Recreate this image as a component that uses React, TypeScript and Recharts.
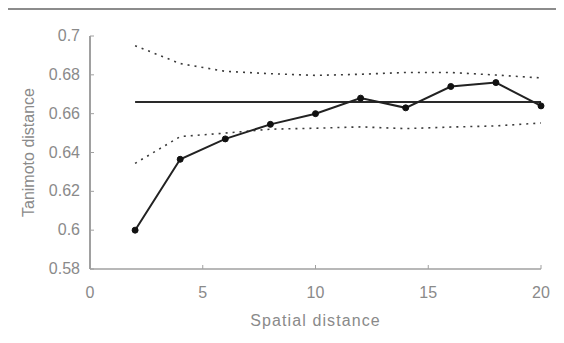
import { LineChart, Line, XAxis, YAxis, Label } from "recharts";

const distances = [2, 4, 6, 8, 10, 12, 14, 16, 18, 20];
const tanimoto = [0.6, 0.6365, 0.647, 0.6545, 0.66, 0.668, 0.663, 0.674, 0.676, 0.664];
const meanLevel = [0.666, 0.666, 0.666, 0.666, 0.666, 0.666, 0.666, 0.666, 0.666, 0.666];
const upperBound = [0.695, 0.6858, 0.6818, 0.6806, 0.6797, 0.6803, 0.6812, 0.6812, 0.6799, 0.6784];
const lowerBound = [0.6344, 0.6482, 0.65, 0.652, 0.6525, 0.6532, 0.6523, 0.6531, 0.6537, 0.6552];

const xTicks = [0, 5, 10, 15, 20];
const yTicks = [0.58, 0.6, 0.62, 0.64, 0.66, 0.68, 0.7];

const data = distances.map((d, i) => ({
  d,
  tanimoto: tanimoto[i],
  mean: meanLevel[i],
  upper: upperBound[i],
  lower: lowerBound[i],
}));

const TEXT = "#8a8a8a";
const AXIS = "#a0a0a0";
const FONT = "'Liberation Sans', Arial, sans-serif";

const YTick = (props: any) => {
  const { x, y, payload } = props;
  return (
    <g>
      <line x1={x} x2={x + 4} y1={y} y2={y} stroke={AXIS} strokeWidth={1} />
      <text x={x - 10} y={y} dy={5} textAnchor="end" fill={TEXT} fontSize={16} fontFamily={FONT}>
        {String(payload.value)}
      </text>
    </g>
  );
};

const XTick = (props: any) => {
  const { x, y, payload } = props;
  return (
    <g>
      <line x1={x} x2={x} y1={y} y2={y - 4} stroke={AXIS} strokeWidth={1} />
      <text x={x} y={y} dy={29} textAnchor="middle" fill={TEXT} fontSize={16} fontFamily={FONT}>
        {String(payload.value)}
      </text>
    </g>
  );
};

export default function App() {
  return (
    <div
      style={{
        marginLeft: -4,
        width: 558,
        height: 333,
        borderTop: "2px solid #8c8c8c",
        borderLeft: "2px solid #8c8c8c",
        background: "#fff",
      }}
    >
      <LineChart
        width={558}
        height={333}
        data={data}
        margin={{ top: 26, right: 23, bottom: 0, left: 0 }}
      >
        <XAxis
          dataKey="d"
          type="number"
          domain={[0, 20]}
          ticks={xTicks}
          height={74}
          tickSize={0}
          tickMargin={0}
          tick={<XTick />}
          axisLine={{ stroke: AXIS, strokeWidth: 1.5 }}
          tickLine={false}
        >
          <Label
            value="Spatial distance"
            position="insideBottom"
            offset={17}
            fill={TEXT}
            fontSize={16}
            fontFamily={FONT}
            letterSpacing={1.1}
          />
        </XAxis>
        <YAxis
          type="number"
          domain={[0.58, 0.7]}
          ticks={yTicks}
          width={84}
          tickSize={0}
          tickMargin={0}
          tick={<YTick />}
          axisLine={{ stroke: AXIS, strokeWidth: 2 }}
          tickLine={false}
          allowDataOverflow
        >
          <Label
            value="Tanimoto distance"
            angle={-90}
            position="insideLeft"
            offset={22}
            fill={TEXT}
            fontSize={16}
            fontFamily={FONT}
            style={{ textAnchor: "middle" }}
          />
        </YAxis>
        <Line
          dataKey="upper"
          stroke="#3a3a3a"
          strokeWidth={1.6}
          strokeDasharray="2 5"
          dot={false}
          isAnimationActive={false}
        />
        <Line
          dataKey="lower"
          stroke="#3a3a3a"
          strokeWidth={1.6}
          strokeDasharray="2 5"
          dot={false}
          isAnimationActive={false}
        />
        <Line
          dataKey="mean"
          stroke="#2a2a2a"
          strokeWidth={2}
          dot={false}
          isAnimationActive={false}
        />
        <Line
          dataKey="tanimoto"
          stroke="#222"
          strokeWidth={2}
          dot={{ r: 3, fill: "#111", stroke: "#111", strokeWidth: 1 }}
          isAnimationActive={false}
        />
      </LineChart>
    </div>
  );
}
